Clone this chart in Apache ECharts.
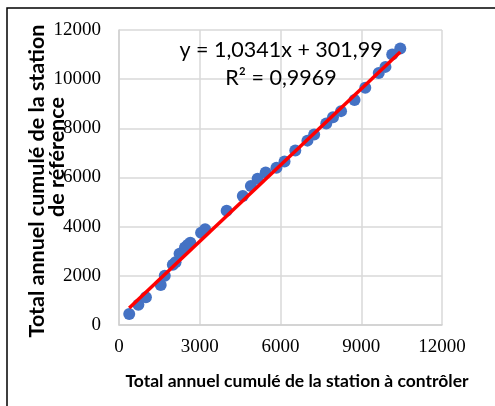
<!DOCTYPE html>
<html><head><meta charset="utf-8">
<script src="https://cdn.jsdelivr.net/npm/echarts@6/dist/echarts.min.js"></script>
<style>html,body{margin:0;padding:0;background:#fff}#c{width:495px;height:406px}</style>
</head><body><div id="c"></div>
<script>
var stationX = [380,720,1000,1550,1700,2000,2100,2250,2450,2550,2650,3050,3200,4000,4600,4900,5150,5450,5850,6150,6550,7000,7250,7700,7950,8250,8750,9150,9650,9900,10150,10450];
var stationY = [450,820,1130,1630,2000,2450,2550,2900,3150,3250,3350,3750,3900,4650,5250,5650,5950,6200,6400,6650,7100,7500,7750,8200,8450,8700,9150,9650,10250,10500,11000,11250];
var trendSlope = 1.0341, trendIntercept = 301.99;
var xTicks = [0,3000,6000,9000,12000];
var yTicks = [0,2000,4000,6000,8000,10000,12000];
var eqLine1 = 'y = 1,0341x + 301,99';
var eqLine2 = 'R² = 0,9969';
var xTitle = 'Total annuel cumulé de la station à contrôler';
var yTitle1 = 'Total annuel cumulé de la station';
var yTitle2 = 'de référence';

var pts = stationX.map(function(x,i){return [x, stationY[i]];});
var xmin = Math.min.apply(null, stationX), xmax = Math.max.apply(null, stationX);
var trend = [[xmin, trendSlope*xmin+trendIntercept],[xmax, trendSlope*xmax+trendIntercept]];

var chart = echarts.init(document.getElementById('c'), null, {renderer:'canvas'});
chart.setOption({
  animation:false,
  grid:{left:119, right:53, top:30, bottom:81, containLabel:false},
  xAxis:{type:'value', min:xTicks[0], max:xTicks[xTicks.length-1], interval:3000,
    axisLine:{show:true, lineStyle:{color:'#d0d0d0', width:1.5}},
    axisTick:{show:false},
    splitLine:{show:true, lineStyle:{color:'#d9d9d9', width:1.5}},
    axisLabel:{show:false}},
  yAxis:{type:'value', min:yTicks[0], max:yTicks[yTicks.length-1], interval:2000,
    axisLine:{show:true, lineStyle:{color:'#d0d0d0', width:1.5}},
    axisTick:{show:false},
    splitLine:{show:true, lineStyle:{color:'#d9d9d9', width:1.5}},
    axisLabel:{show:false}},
  series:[
    {type:'scatter', data:pts, symbolSize:12, itemStyle:{color:'#4472C4', opacity:1}, z:2},
    {type:'line', data:trend, showSymbol:false, symbol:'none', lineStyle:{color:'#FF0000', width:3.5}, z:3}
  ]
});

var g = [
  {type:'rect', shape:{x:7, y:8, width:520, height:420}, style:{fill:'none', stroke:'#000', lineWidth:1.5}, silent:true},
  {type:'text', x:281, y:50, style:{text:eqLine1, fontFamily:'Lato', fontSize:21.5, fill:'#000', align:'center', verticalAlign:'middle'}},
  {type:'text', x:281, y:78, style:{text:eqLine2, fontFamily:'Lato', fontSize:21.5, fill:'#000', align:'center', verticalAlign:'middle'}},
  {type:'text', x:297, y:381, style:{text:xTitle, fontFamily:'Lato', fontWeight:'bold', fontSize:17.5, fill:'#000', align:'center', verticalAlign:'middle'}},
  {type:'text', x:37, y:181, rotation:Math.PI/2, style:{text:yTitle1, fontFamily:'Lato', fontWeight:'bold', fontSize:21.5, fill:'#000', align:'center', verticalAlign:'middle'}},
  {type:'text', x:57, y:157, rotation:Math.PI/2, style:{text:yTitle2, fontFamily:'Lato', fontWeight:'bold', fontSize:21.5, fill:'#000', align:'center', verticalAlign:'middle'}}
];
xTicks.forEach(function(v){
  var p = chart.convertToPixel({gridIndex:0}, [v, yTicks[0]]);
  g.push({type:'text', x:p[0], y:p[1]+13, style:{text:String(v), fontFamily:'Times New Roman', fontSize:19, fill:'#000', align:'center', verticalAlign:'top'}});
});
yTicks.forEach(function(v){
  var p = chart.convertToPixel({gridIndex:0}, [xTicks[0], v]);
  g.push({type:'text', x:p[0]-18, y:p[1], style:{text:String(v), fontFamily:'Times New Roman', fontSize:19, fill:'#000', align:'right', verticalAlign:'middle'}});
});
chart.setOption({graphic:g});
</script></body></html>
